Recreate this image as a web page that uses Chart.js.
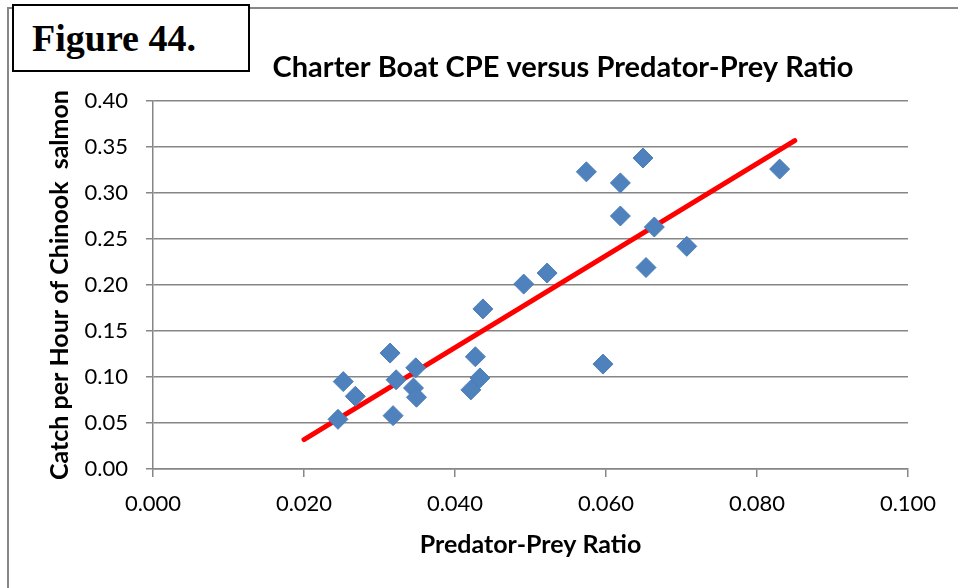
<!DOCTYPE html>
<html>
<head>
<meta charset="utf-8">
<title>Figure 44</title>
<script src="https://cdn.jsdelivr.net/npm/chart.js@4/dist/chart.umd.min.js"></script>
<style>
  html, body { margin: 0; padding: 0; background: #fff; }
  #wrap { position: relative; width: 958px; height: 588px; overflow: hidden; }
  #frame {
    position: absolute; left: 7px; top: 7px; right: -10px; bottom: -10px;
    border-top: 2px solid #878787; border-left: 2px solid #878787;
  }
  #figLabel {
    position: absolute; left: 12px; top: 4px; width: 216px; height: 64px;
    border: 2px solid #000; background: #fff;
    font: bold 38px "Liberation Serif", "Times New Roman", serif;
    line-height: 64px; padding-left: 18px; box-sizing: content-box;
  }
  #myChart { position: absolute; left: 0; top: 0; }
</style>
</head>
<body>
<div id="wrap">
  <div id="frame"></div>
  <canvas id="myChart" width="958" height="588"></canvas>
  <div id="figLabel">Figure 44.</div>
</div>
<script>
// predator-prey ratio vs. charter boat catch per hour of Chinook salmon
let ratio = [0.0245, 0.0252, 0.0268, 0.0314, 0.0322, 0.0318, 0.0348, 0.0345,
  0.0349, 0.0427, 0.0433, 0.0421, 0.0437, 0.0596, 0.0491, 0.0522,
  0.0574, 0.0619, 0.0649, 0.0619, 0.0664, 0.0707, 0.0653, 0.0830];
let cpe = [0.054, 0.095, 0.079, 0.126, 0.097, 0.058, 0.110, 0.088,
  0.078, 0.122, 0.099, 0.086, 0.174, 0.114, 0.201, 0.213,
  0.323, 0.311, 0.338, 0.275, 0.263, 0.242, 0.219, 0.326];
// linear trend line ends
let trendX = [0.020, 0.085];
let trendY = [0.032, 0.357];

let xTicks = [0, 0.02, 0.04, 0.06, 0.08, 0.1];
let yTicks = [0, 0.05, 0.10, 0.15, 0.20, 0.25, 0.30, 0.35, 0.40];

const chartTitle = 'Charter Boat CPE versus Predator-Prey Ratio';
const gridGray = '#868686';
const fontFamily = 'Lato, "Open Sans", sans-serif';

let points = ratio.map((r, i) => ({ x: r, y: cpe[i] }));
let trend = trendX.map((t, i) => ({ x: t, y: trendY[i] }));

// title sits off-centre (to the right of the figure label), so draw it by hand
const offsetTitle = {
  id: 'offsetTitle',
  afterDraw(chart) {
    const ctx = chart.ctx;
    ctx.save();
    ctx.font = `bold 29px ${fontFamily}`;
    ctx.fillStyle = '#000';
    ctx.textAlign = 'center';
    ctx.textBaseline = 'middle';
    ctx.fillText(chartTitle, 563, 68);
    ctx.restore();
  }
};

new Chart(document.querySelector('#myChart'), {
  type: 'scatter',
  data: {
    datasets: [
      {
        label: 'CPE',
        data: points,
        pointStyle: 'rectRot',
        pointRadius: 10,
        pointHoverRadius: 10,
        backgroundColor: '#4F81BD',
        borderColor: '#4A7EBA',
        borderWidth: 1,
        order: 1
      },
      {
        label: 'Linear trend',
        type: 'line',
        data: trend,
        showLine: true,
        borderColor: '#FF0000',
        borderWidth: 5,
        borderCapStyle: 'round',
        pointRadius: 0,
        fill: false,
        order: 2
      }
    ]
  },
  plugins: [offsetTitle],
  options: {
    responsive: false,
    animation: false,
    events: [],
    layout: { padding: { top: 101, left: 0, right: 50, bottom: 0 } },
    plugins: {
      legend: { display: false },
      tooltip: { enabled: false },
      title: { display: false }
    },
    scales: {
      x: {
        type: 'linear',
        min: 0,
        max: 0.1,
        afterBuildTicks: axis => { axis.ticks = xTicks.map(v => ({ value: v })); },
        afterFit: axis => { axis.height = 119; },
        grid: { drawOnChartArea: false, drawTicks: true, tickLength: 8, color: gridGray, lineWidth: 1.5 },
        border: { display: true, color: gridGray, width: 1.5 },
        ticks: {
          color: '#000',
          padding: 14,
          font: { family: fontFamily, size: 22 },
          callback: v => v.toFixed(3)
        },
        title: {
          display: true,
          text: 'Predator-Prey Ratio',
          color: '#000',
          font: { family: fontFamily, size: 25, weight: 'bold' },
          padding: { top: 0, bottom: 28 }
        }
      },
      y: {
        type: 'linear',
        min: 0,
        max: 0.4,
        afterBuildTicks: axis => { axis.ticks = yTicks.map(v => ({ value: v })); },
        afterFit: axis => { axis.width = 153; },
        grid: { drawOnChartArea: true, drawTicks: true, tickLength: 7, color: gridGray, lineWidth: 1.5 },
        border: { display: true, color: gridGray, width: 1.5 },
        ticks: {
          color: '#000',
          padding: 18,
          font: { family: fontFamily, size: 22 },
          callback: v => v.toFixed(2)
        },
        title: {
          display: true,
          text: 'Catch per Hour of Chinook  salmon',
          color: '#000',
          font: { family: fontFamily, size: 25, weight: 'bold' },
          padding: { top: 45, bottom: 0 }
        }
      }
    }
  }
});
</script>
</body>
</html>
